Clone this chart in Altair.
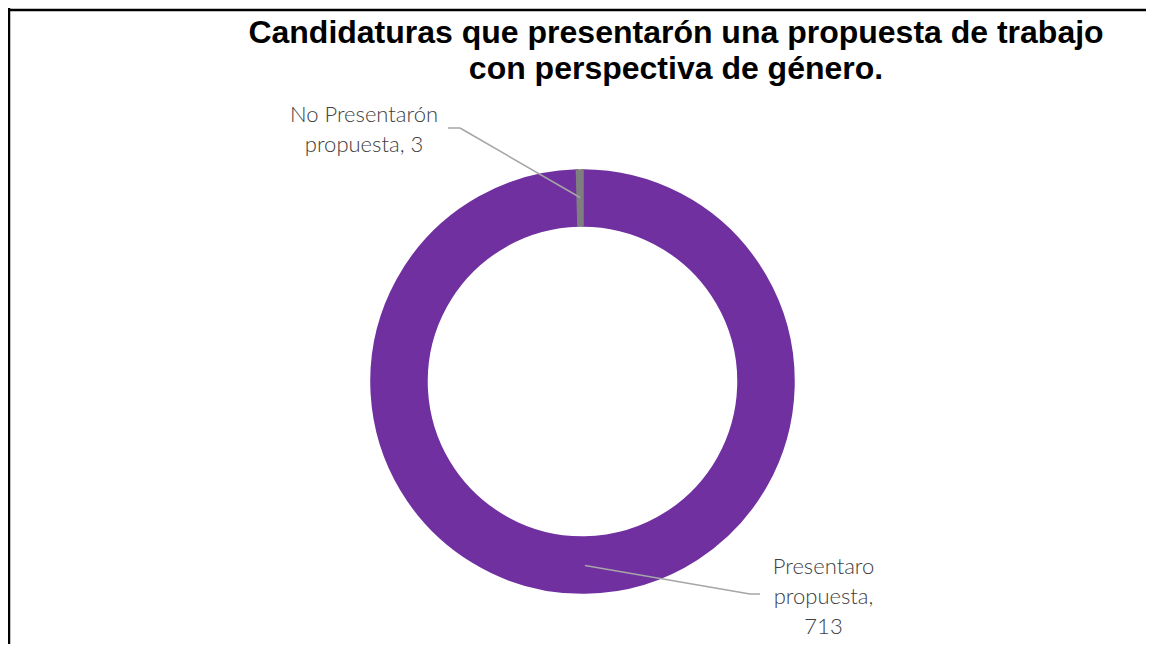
import altair as alt
import pandas as pd

# ---- data ----
categories = ["Presentaro propuesta", "No Presentarón propuesta"]
values = [713, 3]
slice_order = [0, 1]
label_lines = [["Presentaro", "propuesta,", "713"], ["No Presentarón", "propuesta, 3"]]
title_lines = ["Candidaturas que presentarón una propuesta  de trabajo",
               "con perspectiva de género."]
colors = ["#7030A0", "#7F7F7F"]

# ---- layout (style) ----
W, H = 1138, 636
CX, CY = 574.5, 373.5
R_OUT, R_IN = 211, 156
R_MID = 184
# label anchors: (label center x, first baseline y, elbow x, elbow y, end x)
label_layout = [(815.5, 566, 742, 586, 752), (356, 114, 452, 120, 440)]

df = pd.DataFrame({
    "cat": categories,
    "value": values,
    "order": slice_order,
    "label": label_lines,
    "lx": [l[0] for l in label_layout],
    "ly": [l[1] for l in label_layout],
    "ex": [l[2] for l in label_layout],
    "ey": [l[3] for l in label_layout],
    "tx": [l[4] for l in label_layout],
})

xs = alt.Scale(domain=[0, W], nice=False, zero=False)
ys = alt.Scale(domain=[0, H], nice=False, zero=False, reverse=True)

base = alt.Chart(df)

arcs = base.mark_arc(outerRadius=R_OUT, innerRadius=R_IN, strokeWidth=2.5).encode(
    theta=alt.Theta("value:Q", stack=True),
    order=alt.Order("order:Q"),
    color=alt.Color("cat:N", scale=alt.Scale(domain=categories, range=colors), legend=None),
    stroke=alt.Stroke("cat:N", scale=alt.Scale(domain=categories, range=colors), legend=None),
    x=alt.value(CX),
    y=alt.value(CY),
)

lead = base.transform_joinaggregate(total="sum(value)").transform_window(
    cum="sum(value)", sort=[alt.SortField("order")], frame=[None, 0]
).transform_calculate(
    mid="2*PI*(datum.cum - datum.value/2)/datum.total",
).transform_calculate(
    sx=f"{CX} + {R_MID}*sin(datum.mid)",
    sy=f"{CY} - {R_MID}*cos(datum.mid)",
)

rule1 = lead.mark_rule(color="#A6A6A6", strokeWidth=1.5).encode(
    x=alt.X("sx:Q", scale=xs, axis=None),
    y=alt.Y("sy:Q", scale=ys, axis=None),
    x2="ex:Q",
    y2="ey:Q",
)
rule2 = lead.mark_rule(color="#A6A6A6", strokeWidth=1.5).encode(
    x=alt.X("ex:Q", scale=xs, axis=None),
    y=alt.Y("ey:Q", scale=ys, axis=None),
    x2="tx:Q",
    y2="ey:Q",
)

labels = base.mark_text(
    font="Lato", fontSize=22, fontWeight=300, color="#404040",
    align="center", baseline="alphabetic", lineHeight=30,
).encode(
    x=alt.X("lx:Q", scale=xs, axis=None),
    y=alt.Y("ly:Q", scale=ys, axis=None),
    text="label",
)

title = alt.Chart(pd.DataFrame({"t": [title_lines]})).mark_text(
    font="Liberation Sans", fontSize=32, fontWeight="bold", color="#000000",
    align="center", baseline="alphabetic", lineHeight=36,
).encode(
    x=alt.value(668), y=alt.value(35), text="t",
)

border_top = alt.Chart(pd.DataFrame({"a": [0]})).mark_rule(color="#000000", strokeWidth=2.5).encode(
    x=alt.value(0), x2=alt.value(W), y=alt.value(2)
)
border_left = alt.Chart(pd.DataFrame({"a": [0]})).mark_rule(color="#000000", strokeWidth=2.5).encode(
    x=alt.value(1), y=alt.value(0), y2=alt.value(H)
)

chart = alt.layer(arcs, rule1, rule2, labels, title, border_top, border_left).properties(
    width=W, height=H, autosize=alt.AutoSizeParams(type="none"), padding=0,
    background="white",
).configure_view(stroke=None)

chart.save("out.html", embed_options={"renderer": "svg", "actions": False})
